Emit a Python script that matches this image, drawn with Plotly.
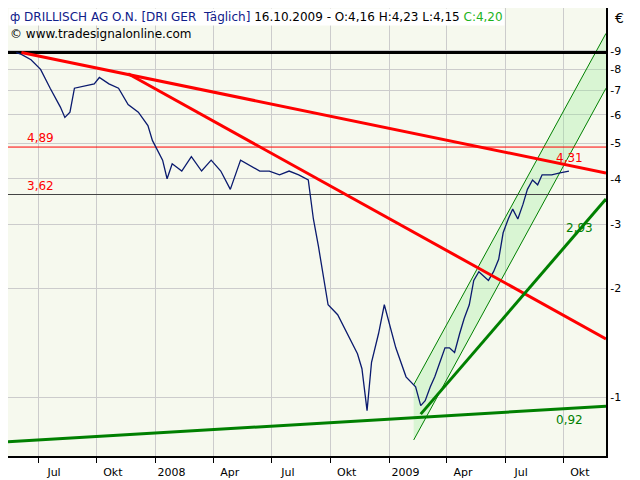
import math
import plotly.graph_objects as go

# price path
dates = ["2007-05-28", "2007-06-05", "2007-06-20", "2007-07-05", "2007-07-20", "2007-08-05", "2007-08-12",
         "2007-08-20", "2007-08-27", "2007-09-12", "2007-09-27", "2007-10-05", "2007-10-20", "2007-11-04",
         "2007-11-19", "2007-12-05", "2007-12-20", "2007-12-27", "2008-01-12", "2008-01-19", "2008-01-27",
         "2008-02-11", "2008-02-26", "2008-03-13", "2008-03-28", "2008-04-12", "2008-04-27", "2008-05-13",
         "2008-05-28", "2008-06-12", "2008-06-27", "2008-07-13", "2008-07-28", "2008-08-12", "2008-08-27",
         "2008-09-04", "2008-09-12", "2008-09-19", "2008-09-27", "2008-10-12", "2008-10-27", "2008-11-12",
         "2008-11-19", "2008-11-27", "2008-12-04", "2008-12-15", "2008-12-24", "2009-01-01", "2009-01-11",
         "2009-01-27", "2009-02-11", "2009-02-19", "2009-02-26", "2009-03-06", "2009-03-13", "2009-03-21",
         "2009-03-29", "2009-04-05", "2009-04-13", "2009-04-21", "2009-04-28", "2009-05-06", "2009-05-13",
         "2009-05-21", "2009-05-29", "2009-06-05", "2009-06-13", "2009-06-21", "2009-06-28", "2009-07-06",
         "2009-07-13", "2009-07-21", "2009-07-29", "2009-08-05", "2009-08-13", "2009-08-21", "2009-08-28",
         "2009-09-12", "2009-09-25", "2009-10-09"]
close = [8.9, 8.8, 8.5, 8.0, 7.1, 6.3, 5.9, 6.1, 7.1, 7.2, 7.3, 7.6, 7.3, 7.1, 6.4, 6.1, 5.6, 5.1, 4.5,
         4.0, 4.4, 4.2, 4.6, 4.2, 4.5, 4.2, 3.74, 4.5, 4.35, 4.2, 4.2, 4.1, 4.2, 4.1, 3.97, 3.1, 2.6,
         2.16, 1.8, 1.69, 1.5, 1.32, 1.2, 0.92, 1.25, 1.5, 1.8, 1.6, 1.37, 1.14, 1.07, 0.95, 0.98, 1.07,
         1.14, 1.25, 1.37, 1.37, 1.33, 1.5, 1.65, 1.8, 2.1, 2.22, 2.15, 2.1, 2.22, 2.4, 2.84, 3.1, 3.3,
         3.1, 3.4, 3.74, 3.97, 3.85, 4.1, 4.1, 4.15, 4.2]

tick_dates = ["2007-07-01", "2007-10-01", "2008-01-01", "2008-04-01", "2008-07-01", "2008-10-01",
              "2009-01-01", "2009-04-01", "2009-07-01", "2009-10-01"]
tick_text = ["Jul", "Okt", "2008", "Apr", "Jul", "Okt", "2009", "Apr", "Jul", "Okt"]
y_ticks = [1, 2, 3, 4, 5, 6, 7, 8, 9]
y_text = ["-1", "-2", "-3", "-4", "-5", "-6", "-7", "-8", "-9"]

red_top = (["2007-06-05", "2009-12-06"], [8.9, 4.15])
red_steep = (["2007-11-19", "2009-12-06"], [7.78, 1.45])
green_base = (["2007-05-15", "2009-12-06"], [0.755, 0.946])
green_steep = (["2009-02-19", "2009-12-06"], [0.90, 3.52])
chan_low = (["2009-02-08", "2009-12-06"], [0.764, 7.1])
chan_high = (["2009-02-08", "2009-12-06"], [1.083, 10.05])

x0, x1 = "2007-05-15", "2009-12-06"
fig = go.Figure()
fig.add_trace(go.Scatter(x=chan_low[0], y=chan_low[1], mode="lines", line=dict(color="green", width=1)))
fig.add_trace(go.Scatter(x=chan_high[0], y=chan_high[1], mode="lines", line=dict(color="green", width=1),
                         fill="tonexty", fillcolor="rgba(150,235,150,0.3)"))
for ys, c, w in [(8.9, "black", 3), (4.89, "red", 1), (3.62, "#444", 1)]:
    fig.add_trace(go.Scatter(x=[x0, x1], y=[ys, ys], mode="lines", line=dict(color=c, width=w)))
fig.add_trace(go.Scatter(x=dates, y=close, mode="lines", line=dict(color="#0a1a6e", width=1.3)))
for seg, c in [(red_top, "red"), (red_steep, "red"), (green_base, "green"), (green_steep, "green")]:
    fig.add_trace(go.Scatter(x=seg[0], y=seg[1], mode="lines", line=dict(color=c, width=3)))

labels = [("2007-06-10", 4.89, "4,89", "red", "bottom"), ("2007-06-10", 3.62, "3,62", "red", "bottom"),
          ("2009-09-15", 4.31, "4,31", "red", "bottom"), ("2009-10-02", 2.93, "2,93", "green", "middle"),
          ("2009-09-15", 0.92, "0,92", "green", "top")]
for lx, ly, t, c, anc in labels:
    fig.add_annotation(x=lx, y=math.log10(ly), text=t, showarrow=False, xanchor="left", yanchor=anc,
                       font=dict(color=c, size=12))

fig.add_annotation(x=0, y=1, xref="paper", yref="paper", xanchor="left", yanchor="top", showarrow=False,
                   bgcolor="white", borderpad=1,
                   text="<span style='color:#10208a'>ф DRILLISCH AG O.N. [DRI GER  Täglich]</span><span style='color:black'> 16.10.2009 - O:4,16 H:4,23 L:4,15 </span><span style='color:#1db31d'>C:4,20</span>",
                   font=dict(size=12, color="#10208a"))
fig.add_annotation(x=0, y=0.962, xref="paper", yref="paper", xanchor="left", yanchor="top", showarrow=False,
                   text="© www.tradesignalonline.com", font=dict(size=12, color="black"))
fig.add_annotation(x=1.012, y=1, xref="paper", yref="paper", xanchor="left", yanchor="top", showarrow=False,
                   text="€", font=dict(size=14, color="black"))

fig.update_layout(width=632, height=472, margin=dict(l=0, r=34, t=0, b=24), showlegend=False,
                  plot_bgcolor="#f6f9ee", paper_bgcolor="white",
                  font=dict(family="DejaVu Sans", size=11, color="black"))
fig.update_xaxes(range=[x0, x1], tickvals=tick_dates, ticktext=tick_text, ticks="outside", ticklen=5,
                 tickcolor="black", showgrid=True, gridcolor="#cccccc", ticklabelshift=16, automargin=False,
                 showline=True, linecolor="black", linewidth=2, mirror=True)
fig.update_yaxes(type="log", range=[-0.161, 1.072], side="right", tickvals=y_ticks, ticktext=y_text,
                 ticks="", showgrid=True, gridcolor="#cccccc", automargin=False,
                 showline=True, linecolor="black", linewidth=2, mirror=True)
fig.write_html("out.html")
